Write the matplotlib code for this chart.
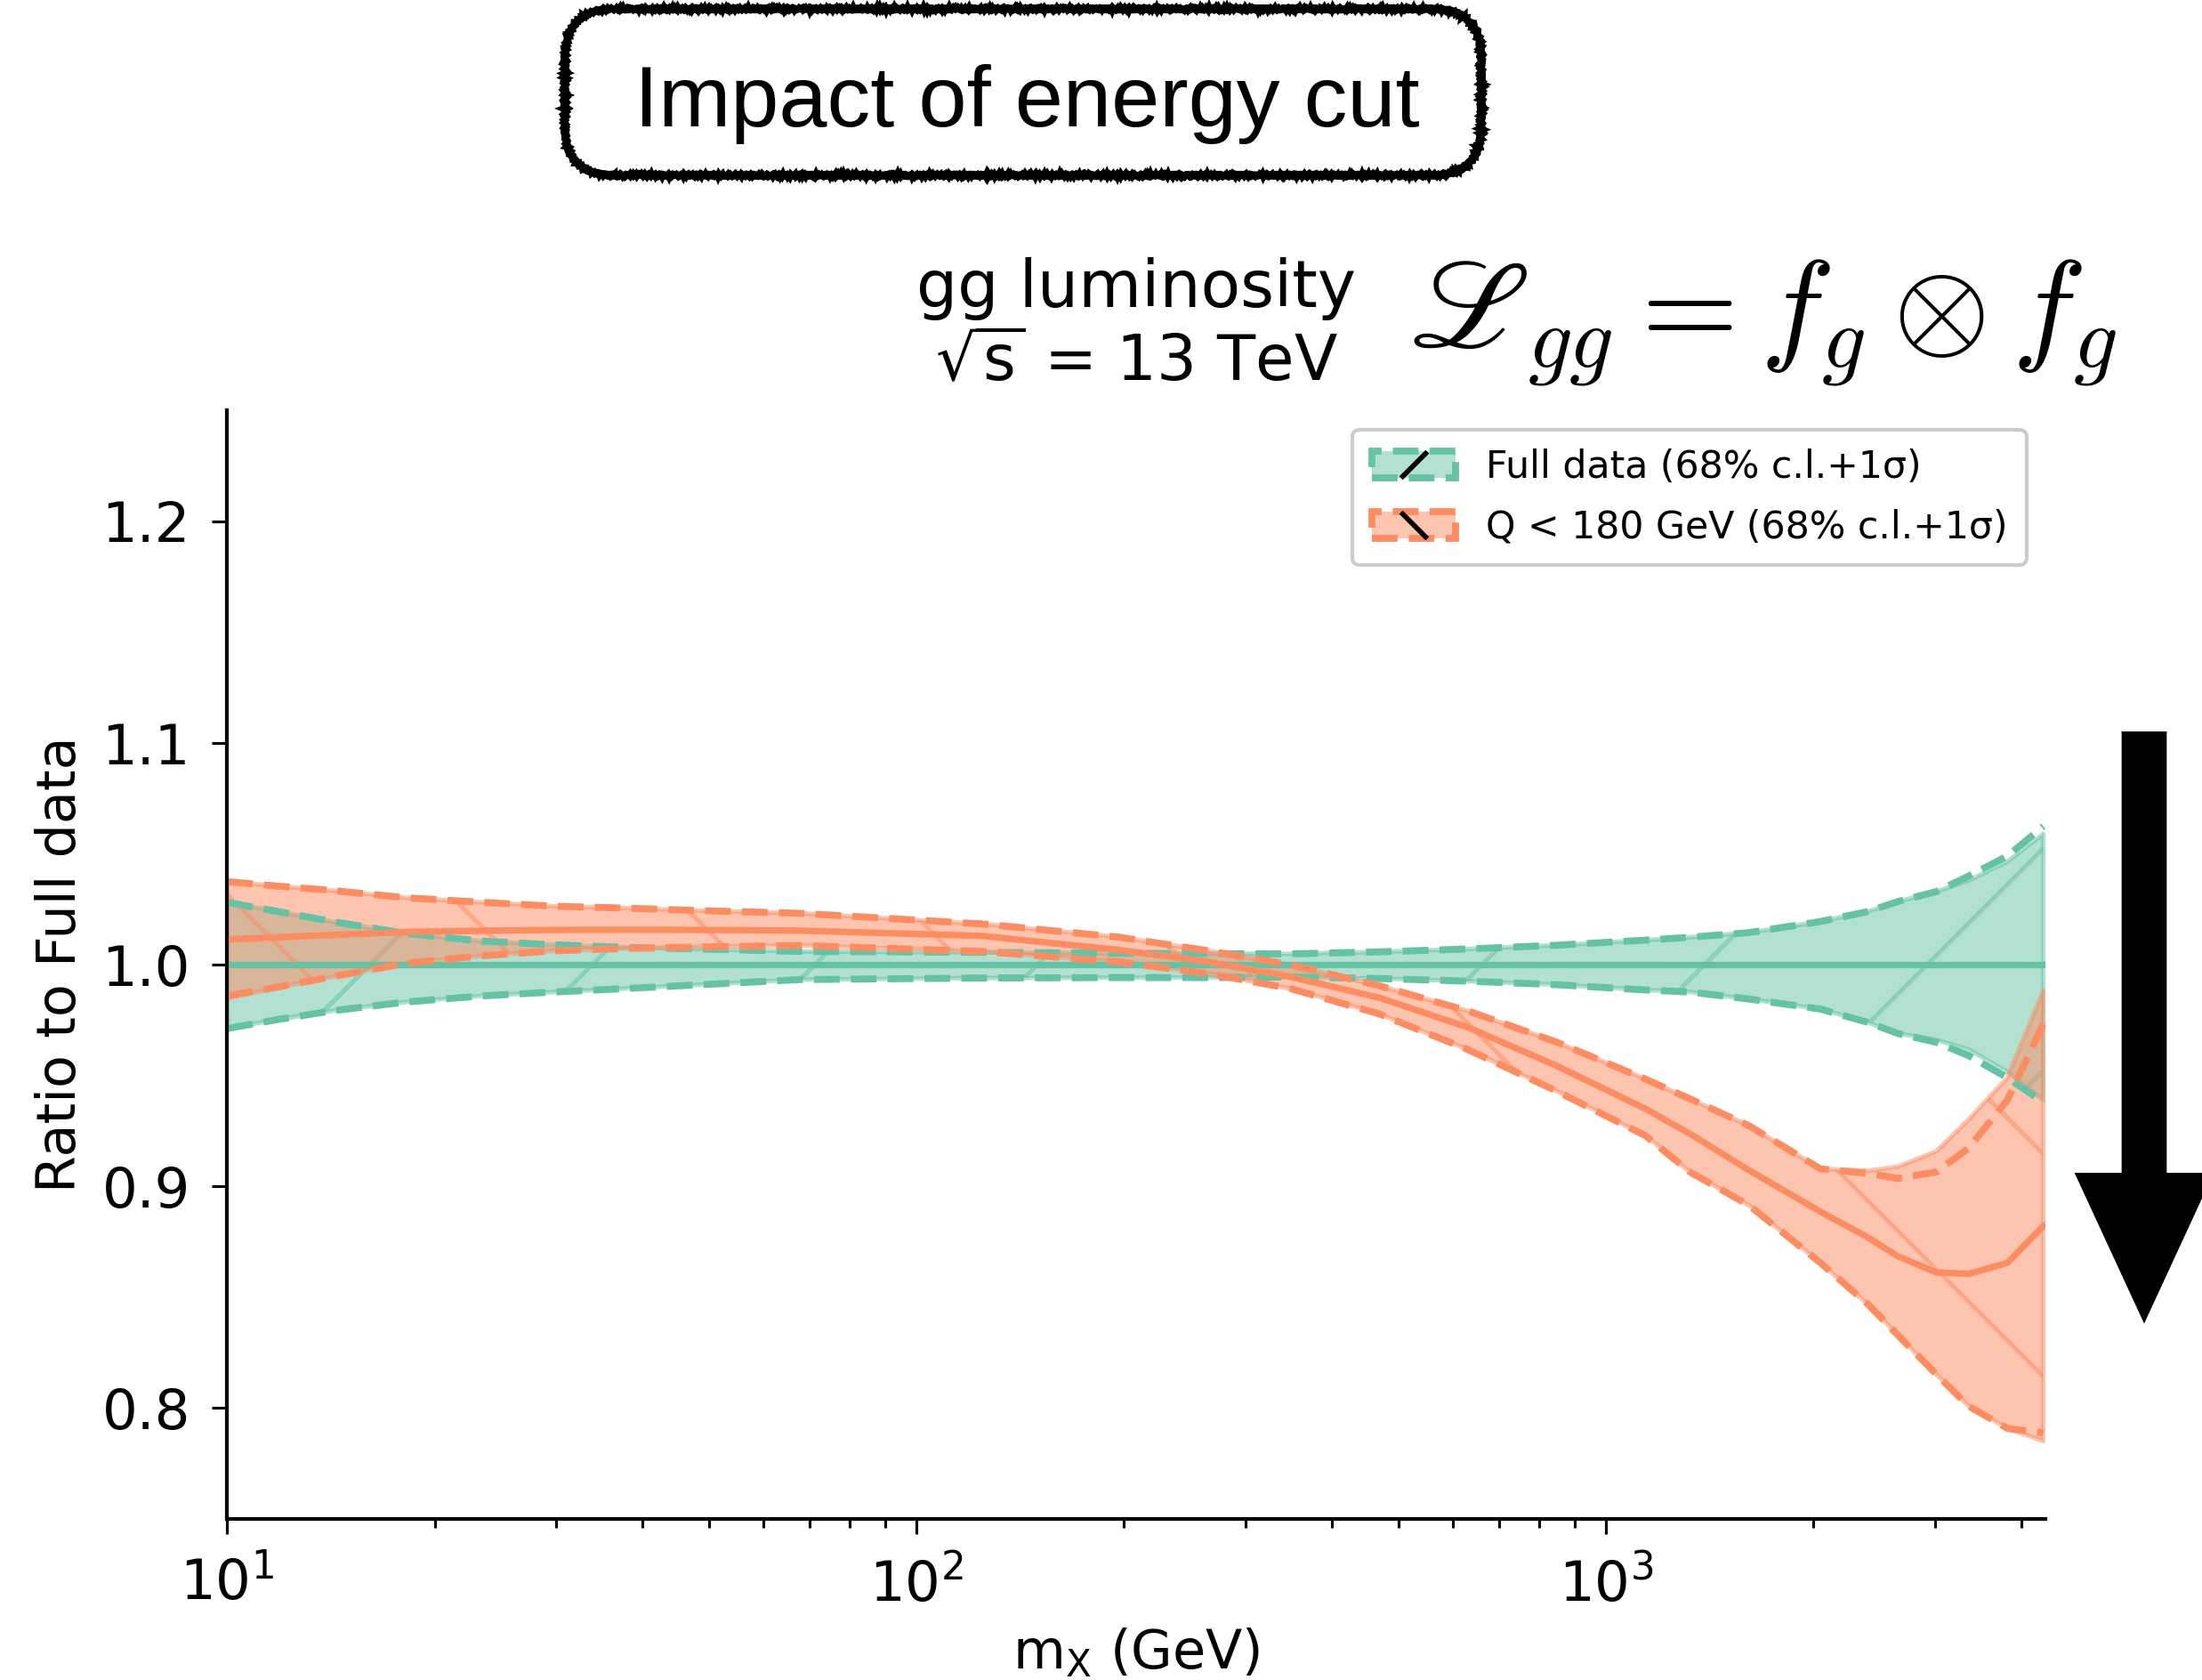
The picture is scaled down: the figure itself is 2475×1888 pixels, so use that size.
import matplotlib
matplotlib.use('Agg')
import matplotlib.pyplot as plt
from matplotlib.patches import Patch, FancyBboxPatch, FancyArrow
from matplotlib.lines import Line2D
from matplotlib.transforms import IdentityTransform
from matplotlib.colors import to_rgba

DPI = 750
VERDE = '#66c2a5'
NARANJA = '#fc8d62'

# m_X (GeV)
mx = [10, 11.8, 14.2, 18.2, 23.3, 29.8, 38.1, 48.7, 67.8, 124.5, 196, 265, 348,
      468, 630, 848, 1141, 1324, 1614, 2047, 2398, 2650, 3015, 3358, 3822, 4310]

# Full data: central, banda 1 sigma (relleno) y 68% c.l. (discontinua)
full_centro = [1.0, 1.0, 1.0, 1.0, 1.0, 1.0, 1.0, 1.0, 1.0, 1.0, 1.0, 1.0, 1.0,
               1.0, 1.0, 1.0, 1.0, 1.0, 1.0, 1.0, 1.0, 1.0, 1.0, 1.0, 1.0, 1.0]
full_sup = [1.0282, 1.0241, 1.0195, 1.0141, 1.0107, 1.0090, 1.0078, 1.0071, 1.0060,
            1.0056, 1.0052, 1.0050, 1.0049, 1.0058, 1.0071, 1.0088, 1.0111, 1.0124,
            1.0145, 1.0195, 1.0240, 1.0285, 1.0330, 1.0380, 1.0465, 1.0590]
full_inf = [0.9712, 0.9752, 0.9792, 0.9832, 0.9859, 0.9877, 0.9893, 0.9910, 0.9933,
            0.9940, 0.9942, 0.9942, 0.9945, 0.9938, 0.9926, 0.9910, 0.9886, 0.9877,
            0.9845, 0.9800, 0.9740, 0.9690, 0.9661, 0.9618, 0.9517, 0.9389]
full_sup_68 = [1.0282, 1.0241, 1.0195, 1.0141, 1.0107, 1.0090, 1.0078, 1.0071, 1.0060,
               1.0056, 1.0052, 1.0050, 1.0049, 1.0058, 1.0071, 1.0088, 1.0111, 1.0124,
               1.0145, 1.0195, 1.0240, 1.0285, 1.0330, 1.0400, 1.0490, 1.0625]
full_inf_68 = [0.9712, 0.9752, 0.9792, 0.9832, 0.9859, 0.9877, 0.9893, 0.9910, 0.9933,
               0.9940, 0.9942, 0.9942, 0.9945, 0.9938, 0.9926, 0.9910, 0.9886, 0.9877,
               0.9845, 0.9800, 0.9740, 0.9690, 0.9650, 0.9590, 0.9490, 0.9380]

# Q < 180 GeV
q_centro = [1.0114, 1.0124, 1.0134, 1.0148, 1.0153, 1.0157, 1.0158, 1.0157, 1.0154,
            1.0130, 1.0067, 1.0013, 0.9946, 0.9852, 0.9718, 0.9544, 0.9350, 0.9237,
            0.9072, 0.8886, 0.8770, 0.8685, 0.8612, 0.8605, 0.8655, 0.8821]
q_sup = [1.0375, 1.0355, 1.0335, 1.0302, 1.0282, 1.0264, 1.0255, 1.0244, 1.0232,
         1.0184, 1.0125, 1.0063, 1.0000, 0.9906, 0.9792, 0.9651, 0.9484, 0.9395,
         0.9273, 0.9079, 0.9070, 0.9089, 0.9158, 0.9302, 0.9490, 0.9883]
q_inf = [0.9850, 0.9895, 0.9946, 1.0007, 1.0040, 1.0063, 1.0074, 1.0080, 1.0087,
         1.0060, 1.0013, 0.9960, 0.9893, 0.9779, 0.9618, 0.9430, 0.9229, 0.9065,
         0.8914, 0.8655, 0.8469, 0.8330, 0.8152, 0.8009, 0.7908, 0.7851]
q_sup_68 = [1.0375, 1.0355, 1.0335, 1.0302, 1.0282, 1.0264, 1.0255, 1.0244, 1.0232,
            1.0184, 1.0125, 1.0063, 1.0000, 0.9906, 0.9792, 0.9651, 0.9484, 0.9395,
            0.9273, 0.9079, 0.9059, 0.9036, 0.9065, 0.9173, 0.9389, 0.9733]
q_inf_68 = [0.9859, 0.9899, 0.9946, 1.0007, 1.0040, 1.0063, 1.0074, 1.0080, 1.0087,
            1.0060, 1.0013, 0.9960, 0.9893, 0.9779, 0.9618, 0.9430, 0.9229, 0.9065,
            0.8914, 0.8655, 0.8469, 0.8330, 0.8152, 0.8009, 0.7908, 0.7888]

etiquetas = ['Full data (68% c.l.+1σ)', 'Q < 180 GeV (68% c.l.+1σ)']

plt.rcParams['hatch.linewidth'] = 0.5
plt.rcParams['font.family'] = 'DejaVu Sans'

fig = plt.figure(figsize=(2475 / DPI, 1888 / DPI), dpi=DPI)
ax = fig.add_axes([0.1032, 0.0959, 0.8257, 0.6597])

# bandas
ax.fill_between(mx, full_inf, full_sup, facecolor=VERDE, edgecolor=VERDE,
                alpha=0.5, lw=0.5, hatch='/')
ax.fill_between(mx, q_inf, q_sup, facecolor=NARANJA, edgecolor=NARANJA,
                alpha=0.5, lw=0.5, hatch='\\')

# lineas
ax.plot(mx, full_centro, color=VERDE, lw=0.7)
ax.plot(mx, full_sup_68, color=VERDE, lw=0.75, ls='--')
ax.plot(mx, full_inf_68, color=VERDE, lw=0.75, ls='--')
ax.plot(mx, q_centro, color=NARANJA, lw=0.7)
ax.plot(mx, q_sup_68, color=NARANJA, lw=0.75, ls='--')
ax.plot(mx, q_inf_68, color=NARANJA, lw=0.75, ls='--')

ax.set_xscale('log')
ax.set_xlim(10, 4340)
ax.set_ylim(0.75, 1.25)
ax.set_yticks([0.8, 0.9, 1.0, 1.1, 1.2])
ax.spines['top'].set_visible(False)
ax.spines['right'].set_visible(False)
for s in ['left', 'bottom']:
    ax.spines[s].set_linewidth(0.4)
ax.tick_params(which='major', length=1.6, width=0.3, pad=2.4, labelsize=6)
ax.tick_params(which='minor', length=1.0, width=0.3)
ax.set_xlabel('m$_{\\mathrm{X}}$ (GeV)', fontsize=5.8, labelpad=1.5)
ax.set_ylabel('Ratio to Full data', fontsize=5.8, labelpad=1.6)

# leyenda: parche con borde discontinuo + una raya negra de la trama
h_full = (Patch(facecolor=to_rgba(VERDE, 0.5), edgecolor=VERDE, ls='--', lw=0.75),
          Line2D([], [], ls='none', marker=(2, 2, -45), markersize=4,
                 mec='k', mew=0.5))
h_q = (Patch(facecolor=to_rgba(NARANJA, 0.5), edgecolor=NARANJA, ls='--', lw=0.75),
       Line2D([], [], ls='none', marker=(2, 2, 45), markersize=4,
              mec='k', mew=0.5))
leg = ax.legend([h_full, h_q], etiquetas, loc='upper right', fontsize=4.1,
                handlelength=2.2, labelspacing=0.6, borderpad=0.5,
                fancybox=True, framealpha=1)
leg.get_frame().set_linewidth(0.4)
leg.get_frame().set_edgecolor('0.8')

# textos de arriba
fig.text(0.516, 0.8173, 'gg luminosity', ha='center', va='baseline', fontsize=7)
fig.text(0.516, 0.7738, '$\\sqrt{\\mathrm{s}}$ = 13 TeV', ha='center', va='baseline',
         fontsize=6.8)
fig.text(0.640, 0.7929, '$\\mathscr{L}_{gg} = f_g \\otimes f_g$', ha='left',
         va='baseline', fontsize=13.5, math_fontfamily='cm')

fig.text(0.4665, 0.9248, 'Impact of energy cut', ha='center', va='baseline',
         fontsize=9.35, family='Liberation Sans')
caja = FancyBboxPatch((635, 1691), 1030, 187, boxstyle='round,pad=0,rounding_size=55',
                      transform=IdentityTransform(), fill=False, ec='k', lw=0.75)
caja.set_sketch_params(scale=1.3, length=4, randomness=2)
fig.add_artist(caja)

# flecha hacia abajo
flecha = FancyArrow(2410, 1066, 0, -665.5, width=50.7, head_width=156.6,
                    head_length=169.5, length_includes_head=True, fc='k', ec='none',
                    transform=IdentityTransform())
fig.add_artist(flecha)

fig.savefig('out.png', dpi=DPI)
